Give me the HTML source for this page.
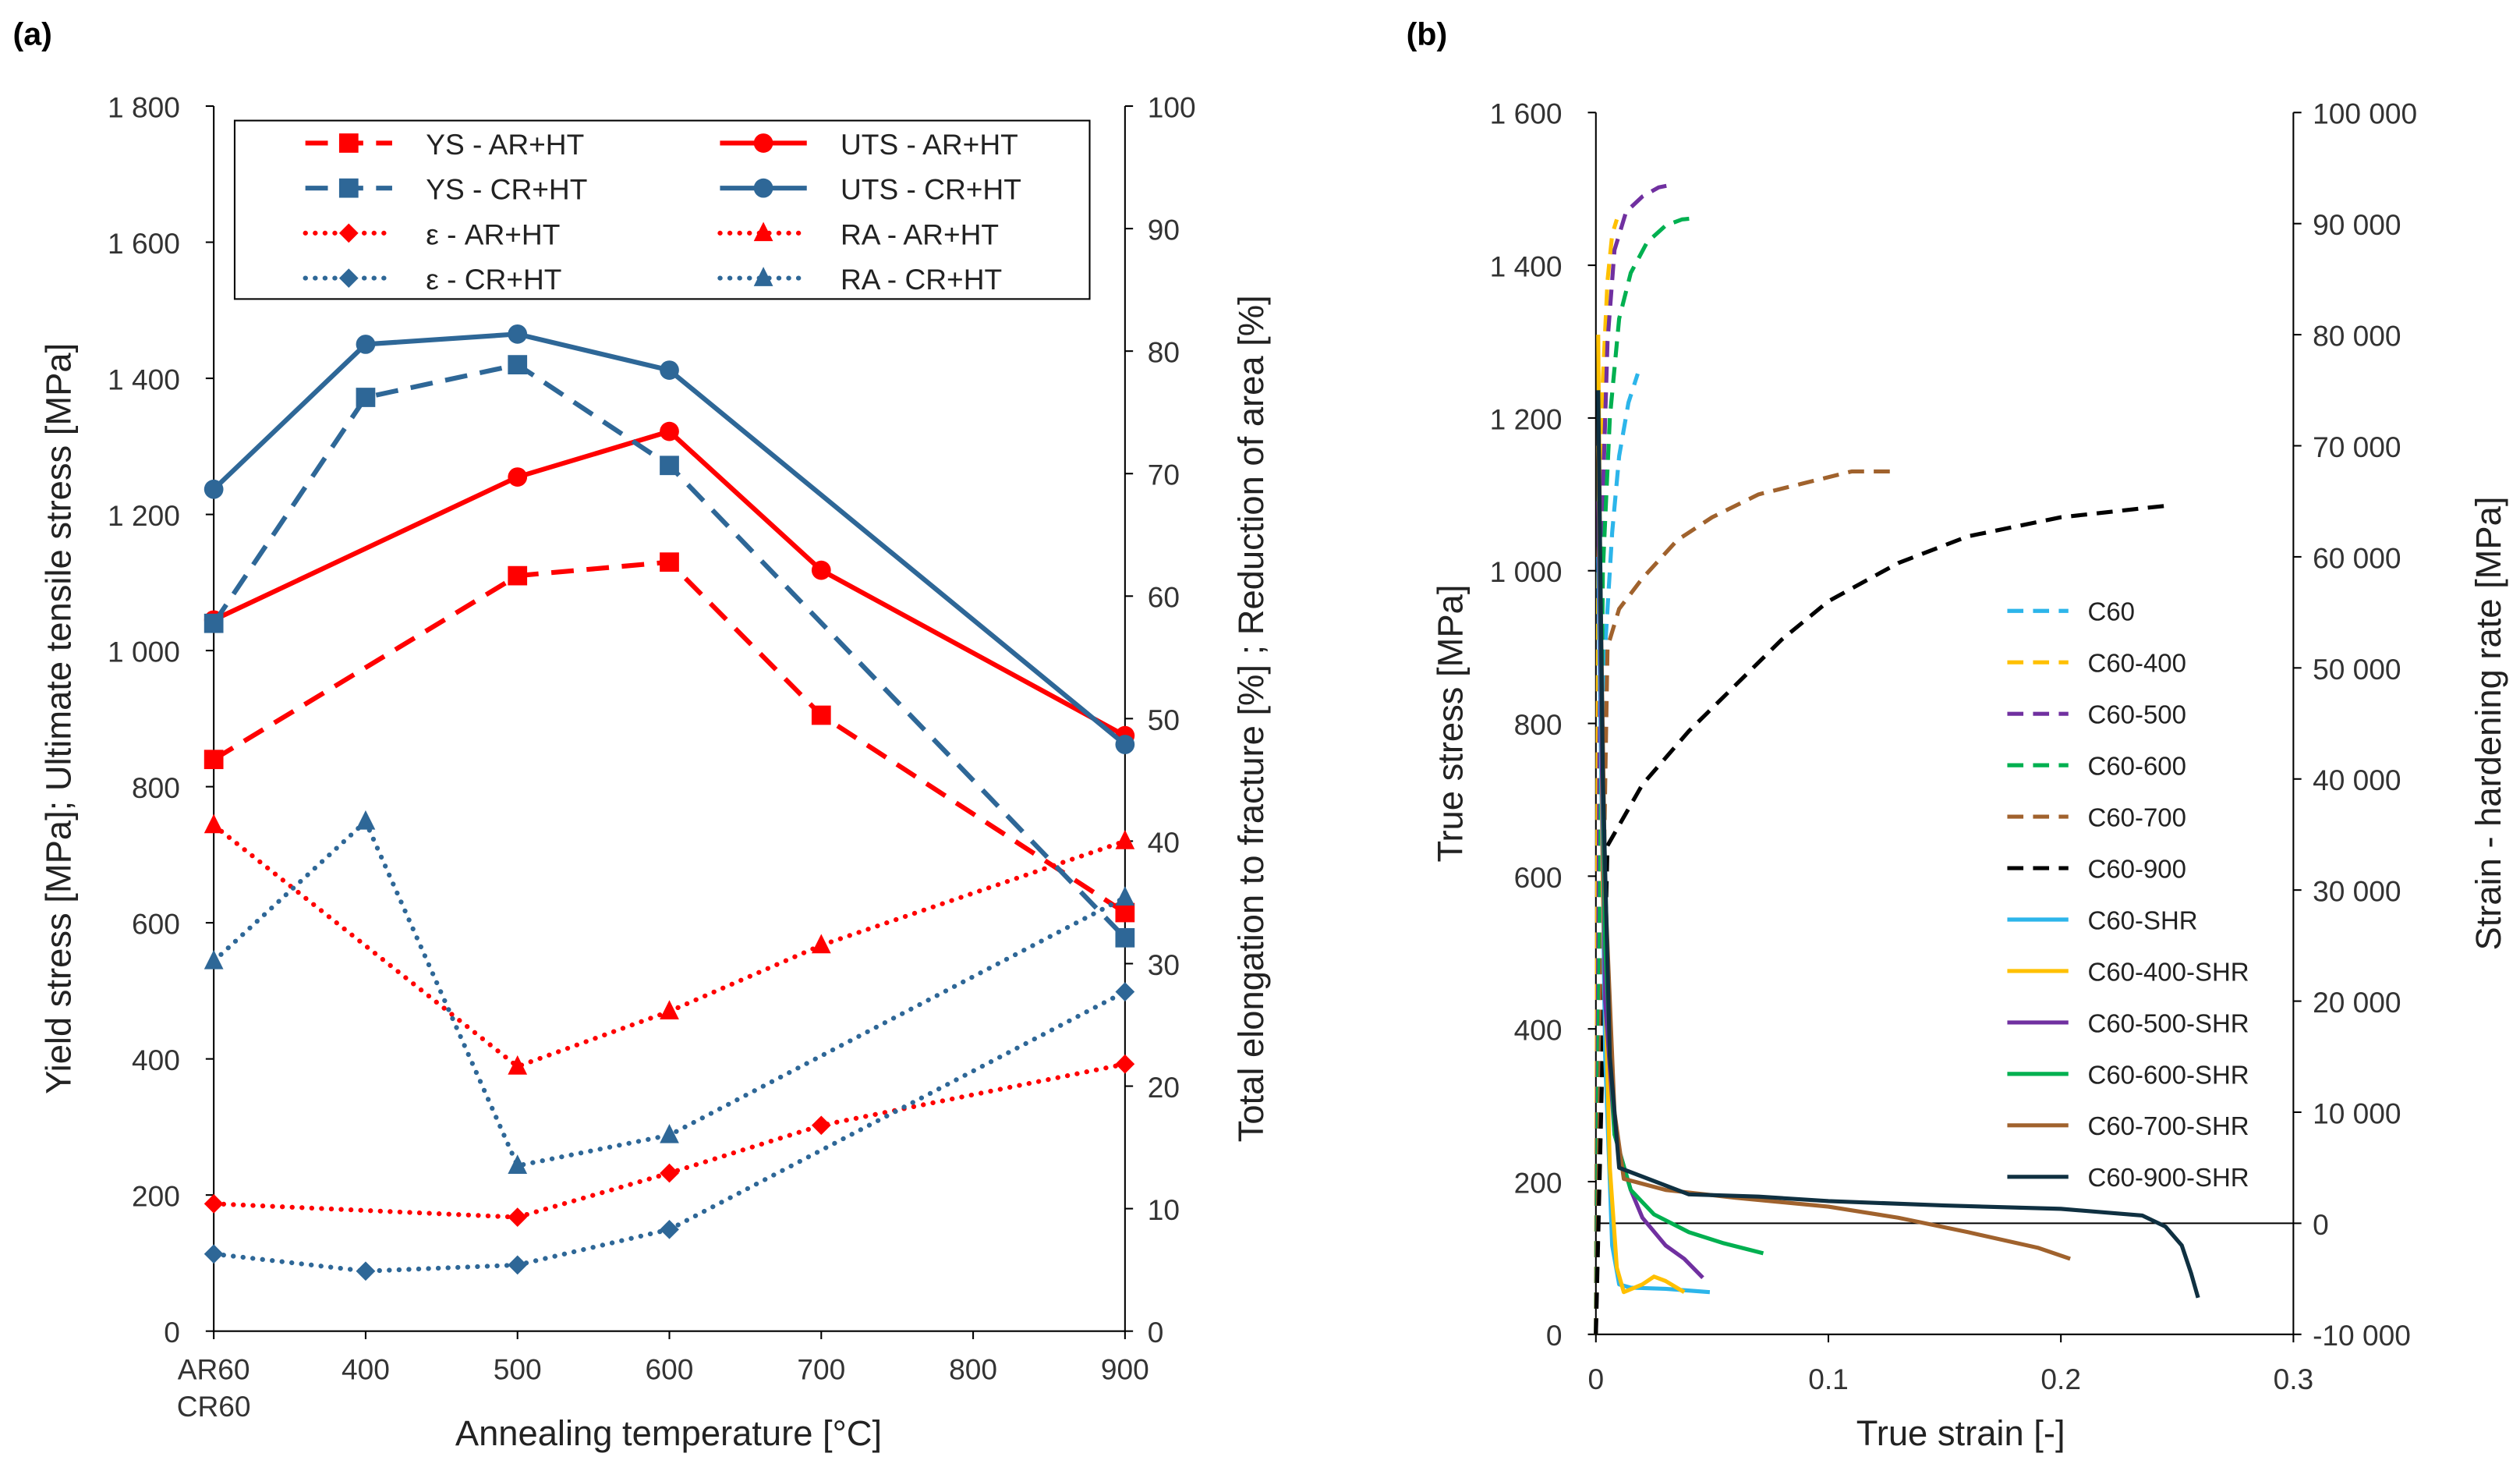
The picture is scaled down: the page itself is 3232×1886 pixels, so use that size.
<!DOCTYPE html>
<html><head><meta charset="utf-8">
<style>
html,body{margin:0;padding:0;background:#fff;}
svg{display:block;font-family:"Liberation Sans",Arial,sans-serif;}
</style></head>
<body>
<svg id="fig" width="3232" height="1886" viewBox="0 0 1568 915" xmlns="http://www.w3.org/2000/svg">
<rect width="1568" height="915" fill="#fff"/>
<g id="ga"></g>
<g id="gb"></g>
</svg>
<script>
// ---------- Chart (a) data ----------
const tempsA = [300, 400, 500, 600, 700, 900];
const ysAR_T = [300, 500, 600, 700, 900];
const ysAR = [840, 1110, 1130, 905, 615];
const utsAR_T = [300, 500, 600, 700, 900];
const utsAR = [1045, 1255, 1322, 1118, 875];
const ysCR_T = [300, 400, 500, 600, 900];
const ysCR = [1040, 1372, 1420, 1272, 578];
const utsCR_T = [300, 400, 500, 600, 900];
const utsCR = [1237, 1450, 1465, 1412, 862];
const elAR_T = [300, 500, 600, 700, 900];
const elAR = [10.4, 9.3, 12.9, 16.8, 21.8];
const raAR_T = [300, 500, 600, 700, 900];
const raAR = [41.3, 21.6, 26.1, 31.5, 40.0];
const elCR_T = [300, 400, 500, 600, 900];
const elCR = [6.3, 4.9, 5.4, 8.3, 27.7];
const raCR_T = [300, 400, 500, 600, 900];
const raCR = [30.2, 41.6, 13.5, 16.0, 35.4];
const leftTicksA = [0, 200, 400, 600, 800, 1000, 1200, 1400, 1600, 1800];
const rightTicksA = [0, 10, 20, 30, 40, 50, 60, 70, 80, 90, 100];
const xTicksA = [400, 500, 600, 700, 800, 900];

// ---------- Chart (b) data ----------
const c60_e = [0, 0.002, 0.004, 0.007, 0.010, 0.014, 0.018];
const c60_s = [0, 600, 900, 1050, 1150, 1220, 1258];
const c400_e = [0, 0.001, 0.003, 0.005, 0.007, 0.009];
const c400_s = [0, 1000, 1250, 1380, 1440, 1460];
const c500_e = [0, 0.002, 0.005, 0.008, 0.013, 0.02, 0.027, 0.032];
const c500_s = [0, 1000, 1300, 1420, 1470, 1490, 1502, 1505];
const c600_e = [0, 0.003, 0.006, 0.01, 0.015, 0.022, 0.03, 0.037, 0.044];
const c600_s = [0, 1000, 1200, 1330, 1390, 1430, 1452, 1460, 1462];
const c700_e = [0, 0.005, 0.01, 0.02, 0.035, 0.05, 0.07, 0.09, 0.11, 0.127];
const c700_s = [0, 900, 950, 990, 1040, 1070, 1100, 1115, 1130, 1130];
const c900_e = [0, 0.005, 0.02, 0.04, 0.06, 0.08, 0.1, 0.13, 0.16, 0.2, 0.245];
const c900_s = [0, 640, 720, 790, 850, 910, 960, 1010, 1045, 1070, 1085];
const s60_e = [0.001, 0.004, 0.007, 0.01, 0.015, 0.03, 0.049];
const s60_v = [60000, 15000, -2000, -5500, -5800, -5900, -6200];
const s400_e = [0.001, 0.003, 0.006, 0.009, 0.012, 0.02, 0.025, 0.03, 0.038];
const s400_v = [80000, 30000, 5000, -4000, -6200, -5500, -4800, -5200, -6200];
const s500_e = [0.001, 0.004, 0.008, 0.015, 0.02, 0.03, 0.038, 0.046];
const s500_v = [65000, 20000, 8000, 3000, 500, -2000, -3200, -4900];
const s600_e = [0.001, 0.004, 0.008, 0.015, 0.025, 0.04, 0.055, 0.072];
const s600_v = [70000, 25000, 8000, 3000, 800, -800, -1800, -2700];
const s700_e = [0.001, 0.004, 0.008, 0.012, 0.03, 0.06, 0.1, 0.13, 0.16, 0.19, 0.204];
const s700_v = [70000, 30000, 10000, 4000, 3000, 2300, 1500, 500, -800, -2200, -3200];
const s900_e = [0.001, 0.003, 0.006, 0.01, 0.02, 0.04, 0.07, 0.1, 0.15, 0.2, 0.235, 0.245, 0.252, 0.256, 0.259];
const s900_v = [75000, 40000, 15000, 5000, 4200, 2600, 2400, 2000, 1600, 1300, 700, -300, -2000, -4500, -6700];
const leftTicksB = [0, 200, 400, 600, 800, 1000, 1200, 1400, 1600];
const rightTicksB = [-10000, 0, 10000, 20000, 30000, 40000, 50000, 60000, 70000, 80000, 90000, 100000];
const xTicksB = [0, 0.1, 0.2, 0.3];

const NS = "http://www.w3.org/2000/svg";
function mk(parent, tag, attrs, text) {
  const el = document.createElementNS(NS, tag);
  for (const k in attrs) el.setAttribute(k, attrs[k]);
  if (text !== undefined) el.textContent = text;
  parent.appendChild(el);
  return el;
}
function fmt(n) {
  const s = Math.abs(n).toString();
  const r = s.replace(/\B(?=(\d{3})+(?!\d))/g, " ");
  return (n < 0 ? "-" : "") + r;
}
const RED = "#ff0000", BLUE = "#2e6797";

// ---------- chart a ----------
const ga = document.getElementById("ga");
const ax = t => 133 + (t - 300) * 0.945;
const ayL = v => 828 - v * 762 / 1800;
const ayR = v => 828 - v * 7.62;
mk(ga, "text", {x: 8, y: 28, "font-size": 20, "font-weight": "bold",  }, "(a)");
let axA = mk(ga, "g", {stroke: "#000", "stroke-width": 1});


mk(axA, "line", {x1: 133, y1: 66, x2: 133, y2: 828});
mk(axA, "line", {x1: 700, y1: 66, x2: 700, y2: 828});
mk(axA, "line", {x1: 133, y1: 828, x2: 700, y2: 828});
leftTicksA.forEach(v => {
  mk(axA, "line", {x1: 128, y1: ayL(v), x2: 133, y2: ayL(v)});
  const t = mk(ga, "text", {x: 112, y: ayL(v) + 7, "font-size": 18, "text-anchor": "end", fill: "#333"}, fmt(v));
  
  
});
rightTicksA.forEach(v => {
  mk(axA, "line", {x1: 700, y1: ayR(v), x2: 705, y2: ayR(v)});
  const t = mk(ga, "text", {x: 714, y: ayR(v) + 7, "font-size": 18, fill: "#333"}, v);
  
  
});
[300].concat(xTicksA).forEach(v => mk(axA, "line", {x1: ax(v), y1: 828, x2: ax(v), y2: 833}));
xTicksA.forEach(v => {
  const t = mk(ga, "text", {x: ax(v), y: 858, "font-size": 18, "text-anchor": "middle", fill: "#333"}, v);
  
  
});
mk(ga, "text", {x: 133, y: 858, "font-size": 18, "text-anchor": "middle", fill: "#333",  }, "AR60");
mk(ga, "text", {x: 133, y: 881, "font-size": 18, "text-anchor": "middle", fill: "#333",  }, "CR60");
mk(ga, "text", {x: 416, y: 899, "font-size": 22, "text-anchor": "middle", fill: "#222",  }, "Annealing temperature [°C]");
mk(ga, "text", {x: 0, y: 0, "font-size": 22, "text-anchor": "middle", fill: "#222", transform: "translate(44,447) rotate(-90)",  }, "Yield stress [MPa];  Ultimate tensile stress [MPa]");
mk(ga, "text", {x: 0, y: 0, "font-size": 22, "text-anchor": "middle", fill: "#222", transform: "translate(786,447) rotate(-90)",  }, "Total elongation to fracture [%] ;  Reduction of area [%]");

function marker(g, type, x, y, color) {
  let m;
  if (type === "sq") m = mk(g, "rect", {x: x - 6, y: y - 6, width: 12, height: 12, fill: color});
  else if (type === "ci") m = mk(g, "circle", {cx: x, cy: y, r: 6, fill: color});
  else if (type === "di") m = mk(g, "polygon", {points: `${x},${y-6} ${x+6},${y} ${x},${y+6} ${x-6},${y}`, fill: color});
  else m = mk(g, "polygon", {points: `${x},${y-7} ${x+6},${y+5} ${x-6},${y+5}`, fill: color});
  
  
}
const seriesA = [
  {name: "ys-ar-ht", T: ysAR_T, V: ysAR, y: ayL, c: RED, dash: "14,8", m: "sq"},
  {name: "uts-ar-ht", T: utsAR_T, V: utsAR, y: ayL, c: RED, dash: "", m: "ci"},
  {name: "ys-cr-ht", T: ysCR_T, V: ysCR, y: ayL, c: BLUE, dash: "14,8", m: "sq"},
  {name: "uts-cr-ht", T: utsCR_T, V: utsCR, y: ayL, c: BLUE, dash: "", m: "ci"},
  {name: "elong-ar-ht", T: elAR_T, V: elAR, y: ayR, c: RED, dash: "3,5", m: "di"},
  {name: "ra-ar-ht", T: raAR_T, V: raAR, y: ayR, c: RED, dash: "3,5", m: "tr"},
  {name: "elong-cr-ht", T: elCR_T, V: elCR, y: ayR, c: BLUE, dash: "3,5", m: "di"},
  {name: "ra-cr-ht", T: raCR_T, V: raCR, y: ayR, c: BLUE, dash: "3,5", m: "tr"},
];
seriesA.forEach(s => {
  const g = mk(ga, "g", {});
  
  
  const pts = s.T.map((t, i) => ax(t) + "," + s.y(s.V[i])).join(" ");
  const attrs = {points: pts, fill: "none", stroke: s.c, "stroke-width": 3, "stroke-linecap": s.dash === "3,5" ? "round" : "butt"};
  if (s.dash) attrs["stroke-dasharray"] = s.dash === "3,5" ? "0.1,6" : s.dash;
  mk(g, "polyline", attrs);
  s.T.forEach((t, i) => marker(g, s.m, ax(t), s.y(s.V[i]), s.c));
});
const lgA = mk(ga, "g", {});


mk(lgA, "rect", {x: 146, y: 75, width: 532, height: 111, fill: "#fff", stroke: "#000", "stroke-width": 1});
const legA = [
  ["YS - AR+HT", RED, "14,8", "sq", 0, 0], ["UTS - AR+HT", RED, "", "ci", 1, 0],
  ["YS - CR+HT", BLUE, "14,8", "sq", 0, 1], ["UTS - CR+HT", BLUE, "", "ci", 1, 1],
  ["ε - AR+HT", RED, "3,5", "di", 0, 2], ["RA - AR+HT", RED, "3,5", "tr", 1, 2],
  ["ε - CR+HT", BLUE, "3,5", "di", 0, 3], ["RA - CR+HT", BLUE, "3,5", "tr", 1, 3],
];
legA.forEach(e => {
  const g = mk(lgA, "g", {});
  
  
  const x0 = e[4] ? 448 : 190, y = 89 + e[5] * 28;
  const a = {x1: x0, y1: y, x2: x0 + 54, y2: y, stroke: e[1], "stroke-width": 3};
  if (e[2]) { a["stroke-dasharray"] = e[2] === "3,5" ? "0.1,6" : e[2]; if (e[2] === "3,5") a["stroke-linecap"] = "round"; }
  mk(g, "line", a);
  marker(g, e[3], x0 + 27, y, e[1]);
  mk(g, "text", {x: x0 + 75, y: y + 7, "font-size": 18, fill: "#222"}, e[0]);
});

// ---------- chart b ----------
const gb = document.getElementById("gb");
const bx = e => 993 + e * 1446.7;
const byL = v => 830 - v * 0.475;
const byR = v => 830 - (v + 10000) * 760 / 110000;
mk(gb, "text", {x: 875, y: 28, "font-size": 20, "font-weight": "bold",  }, "(b)");
const axB = mk(gb, "g", {stroke: "#000", "stroke-width": 1});


mk(axB, "line", {x1: 993, y1: 70, x2: 993, y2: 830});
mk(axB, "line", {x1: 1427, y1: 70, x2: 1427, y2: 830});
mk(axB, "line", {x1: 993, y1: 830, x2: 1427, y2: 830});
mk(axB, "line", {x1: 993, y1: byR(0), x2: 1427, y2: byR(0)});
leftTicksB.forEach(v => {
  mk(axB, "line", {x1: 988, y1: byL(v), x2: 993, y2: byL(v)});
  const t = mk(gb, "text", {x: 972, y: byL(v) + 7, "font-size": 18, "text-anchor": "end", fill: "#333"}, fmt(v));
  
  
});
rightTicksB.forEach(v => {
  mk(axB, "line", {x1: 1427, y1: byR(v), x2: 1432, y2: byR(v)});
  const t = mk(gb, "text", {x: 1439, y: byR(v) + 7, "font-size": 18, fill: "#333"}, fmt(v));
  
  
});
xTicksB.forEach(v => {
  mk(axB, "line", {x1: bx(v), y1: 830, x2: bx(v), y2: 835});
  const t = mk(gb, "text", {x: bx(v), y: 864, "font-size": 18, "text-anchor": "middle", fill: "#333"}, v);
  
  
});
mk(gb, "text", {x: 1220, y: 899, "font-size": 22, "text-anchor": "middle", fill: "#222",  }, "True strain  [-]");
mk(gb, "text", {x: 0, y: 0, "font-size": 22, "text-anchor": "middle", fill: "#222", transform: "translate(910,450) rotate(-90)",  }, "True stress  [MPa]");
mk(gb, "text", {x: 0, y: 0, "font-size": 22, "text-anchor": "middle", fill: "#222", transform: "translate(1556,450) rotate(-90)",  }, "Strain - hardening rate  [MPa]");

const CB = "#2cb5ea", CY = "#ffc000", CP = "#7030a0", CG = "#00b050", CBR = "#a0622d", CK = "#000", CN = "#0f3041";
const seriesB = [
  {name: "C60", E: c60_e, V: c60_s, y: byL, c: CB, d: true},
  {name: "C60-400", E: c400_e, V: c400_s, y: byL, c: CY, d: true},
  {name: "C60-500", E: c500_e, V: c500_s, y: byL, c: CP, d: true},
  {name: "C60-600", E: c600_e, V: c600_s, y: byL, c: CG, d: true},
  {name: "C60-700", E: c700_e, V: c700_s, y: byL, c: CBR, d: true},
  {name: "C60-900", E: c900_e, V: c900_s, y: byL, c: CK, d: true},
  {name: "C60-SHR", E: s60_e, V: s60_v, y: byR, c: CB, d: false},
  {name: "C60-400-SHR", E: s400_e, V: s400_v, y: byR, c: CY, d: false},
  {name: "C60-500-SHR", E: s500_e, V: s500_v, y: byR, c: CP, d: false},
  {name: "C60-600-SHR", E: s600_e, V: s600_v, y: byR, c: CG, d: false},
  {name: "C60-700-SHR", E: s700_e, V: s700_v, y: byR, c: CBR, d: false},
  {name: "C60-900-SHR", E: s900_e, V: s900_v, y: byR, c: CN, d: false},
];
seriesB.forEach(s => {
  const pts = s.E.map((e, i) => bx(e) + "," + s.y(s.V[i])).join(" ");
  const a = {points: pts, fill: "none", stroke: s.c, "stroke-width": 2.5, "stroke-linejoin": "round"};
  if (s.d) a["stroke-dasharray"] = "10,6";
  const p = mk(gb, "polyline", a);
  
  
});
const lgB = mk(gb, "g", {});


seriesB.forEach((s, i) => {
  const y = 380 + i * 32;
  const g = mk(lgB, "g", {});
  
  
  const a = {x1: 1249, y1: y, x2: 1287, y2: y, stroke: s.c, "stroke-width": 2.5};
  if (s.d) a["stroke-dasharray"] = "10,6";
  mk(g, "line", a);
  mk(g, "text", {x: 1299, y: y + 6, "font-size": 16, fill: "#222"}, s.name);
});
</script>
</body></html>
